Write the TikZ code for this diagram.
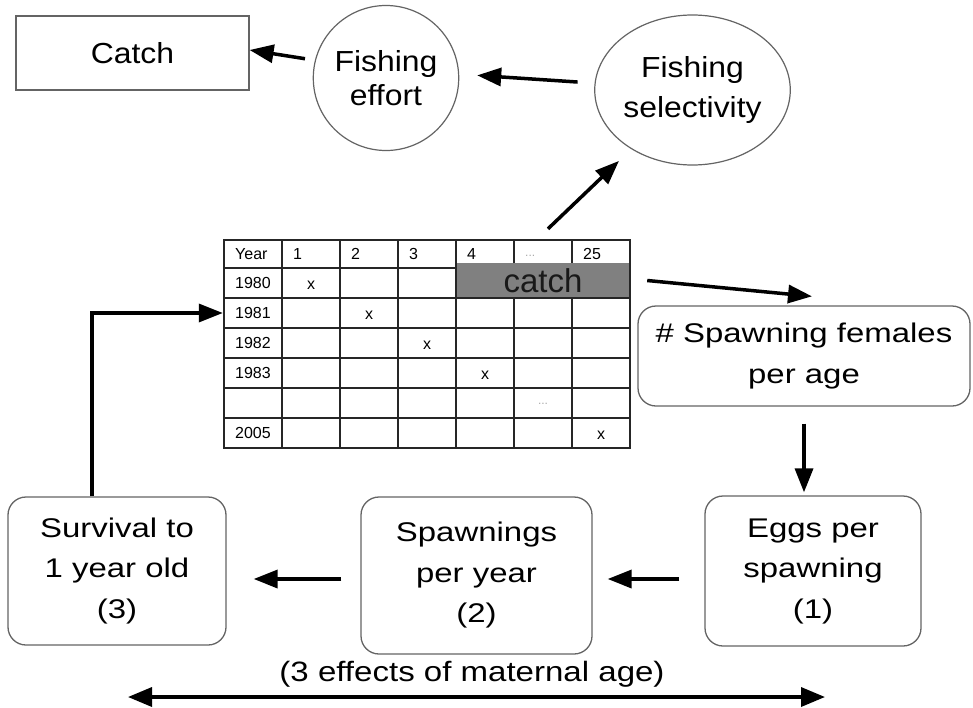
\documentclass[tikz,border=0pt]{standalone}
\usepackage{fontspec}
\setmainfont{Liberation Sans}
\usepackage{graphicx}
\usetikzlibrary{arrows.meta,shapes.geometric,calc}
\newcommand{\wx}[1]{\scalebox{1.22}[1]{#1}}
\newcommand{\wc}[1]{\scalebox{1.1}[1]{#1}}
\definecolor{edge}{RGB}{100,100,100}
\definecolor{cellgray}{RGB}{128,128,128}
\definecolor{dotgray}{RGB}{170,170,170}
\begin{document}
\begin{tikzpicture}[x=1pt,y=-1pt,
  boxstyle/.style={draw=edge, line width=1.3pt, rounded corners=18pt, align=center, inner sep=0pt, font=\fontsize{27}{40.5}\selectfont},
  circstyle/.style={ellipse, draw=edge, line width=1.2pt, align=center, inner sep=0pt},
  arr/.style={line width=3.5pt, -{Triangle[length=24pt,width=18pt]}},
  cell/.style={font=\fontsize{16}{16}\selectfont, inner sep=0pt},
  gridline/.style={line width=1.5pt, black!85},
]
\fill[white] (0,0) rectangle (973,707);
\useasboundingbox (0,0) rectangle (973,707);

% top row
\node[draw=edge, line width=1.2pt, minimum width=233pt, minimum height=74pt, inner sep=0pt,
      font=\fontsize{29}{34}\selectfont] (catch) at (132.5,53) {\wc{Catch}};
\node[circstyle, minimum width=142pt, minimum height=145pt, font=\fontsize{29}{34}\selectfont]
      (eff) at (386,78) {\wc{Fishing}\\\wc{effort}};
\node[circstyle, minimum width=175pt, minimum height=150pt, font=\fontsize{29}{40}\selectfont]
      (sel) at (692.5,90) {\wc{Fishing}\\\wc{selectivity}};

% table grid
\foreach \xx in {282,340,398,456,514,572} \draw[gridline] (\xx,240) -- (\xx,448);
\foreach \yy in {268,298,328,358,388,418} \draw[gridline] (224,\yy) -- (630,\yy);
\node[fill=cellgray, minimum width=174pt, minimum height=35pt, inner sep=0pt,
      font=\fontsize{33}{33}\selectfont, text=black!90] (catchcell) at (543,280.5) {catch};
\draw[gridline, line width=2pt] (456,263) -- (456,298) -- (630,298);
\node[draw=black!85, line width=2.4pt, minimum width=406pt, minimum height=208pt, inner sep=0pt] (tbl) at (427,344) {};

% header
\node[cell, anchor=west] (hY) at (235,254) {Year};
\node[cell, anchor=west] (h1) at (293,254) {1};
\node[cell, anchor=west] (h2) at (351,254) {2};
\node[cell, anchor=west] (h3) at (409,254) {3};
\node[cell, anchor=west] (h4) at (467,254) {4};
\node[cell, anchor=west, text=dotgray, font=\fontsize{12}{12}\selectfont] (h5) at (525,256) {...};
\node[cell, anchor=west] (h25) at (583,254) {25};
% years
\node[cell, anchor=west] (y80) at (235,283) {1980};
\node[cell, anchor=west] (y81) at (235,313) {1981};
\node[cell, anchor=west] (y82) at (235,343) {1982};
\node[cell, anchor=west] (y83) at (235,373) {1983};
\node[cell, anchor=west] (y05) at (235,433) {2005};
% marks
\node[cell] (m1) at (311,285) {x};
\node[cell] (m2) at (369,315) {x};
\node[cell] (m3) at (427,345) {x};
\node[cell] (m4) at (485,375) {x};
\node[cell, text=dotgray, font=\fontsize{12}{12}\selectfont] (m5) at (543,404) {...};
\node[cell] (m6) at (601,435) {x};

% right / bottom boxes
\node[boxstyle, minimum width=332pt, minimum height=100pt] (spf) at (804,356)
      {\wx{\# Spawning females}\\\wx{per age}};
\node[boxstyle, minimum width=216pt, minimum height=150pt] (eggs) at (813,571)
      {\wx{Eggs per}\\\wx{spawning}\\\wx{(1)}};
\node[boxstyle, minimum width=231pt, minimum height=157pt] (spw) at (476.5,575.5)
      {\wx{Spawnings}\\\wx{per year}\\\wx{(2)}};
\node[boxstyle, minimum width=218pt, minimum height=148pt] (surv) at (117,571)
      {\wx{Survival to}\\\wx{1 year old}\\\wx{(3)}};

\node[inner sep=0pt, font=\fontsize{28}{28}\selectfont] (lbl) at (472,674)
      {\scalebox{1.18}[1]{(3 effects of maternal age)}};

% connectors
\draw[arr, shorten <=10pt] (eff.166) -- ([yshift=3pt]catch.east);
\draw[arr, shorten <=17pt, shorten >=18pt] (sel.176) -- (eff.3);
\draw[arr, shorten >=17pt] ([xshift=121pt,yshift=10pt]tbl.north) -- (sel.224);
\draw[arr] ([xshift=17pt]catchcell.east) -- ([xshift=8pt,yshift=9pt]spf.north);
\draw[arr, shorten <=17pt, shorten >=3pt] (spf.south) -- (spf.south |- eggs.north);
\draw[arr, shorten <=25pt, shorten >=15pt] ([yshift=-8pt]eggs.west) -- ([yshift=-8pt]eggs.west -| spw.east);
\draw[arr, shorten <=19pt, shorten >=27pt] ([yshift=-8pt]surv.east -| spw.west) -- ([yshift=-8pt]surv.east);
\coordinate (r1981) at ([yshift=31pt]tbl.west);
\draw[arr] ([xshift=-25pt]surv.north) |- (r1981);
\coordinate (dl) at (128,697);
\coordinate (dr) at (825,697);
\draw[line width=3.5pt, {Triangle[length=24pt,width=19pt]}-{Triangle[length=24pt,width=19pt]}] (dl) -- (dr);
\end{tikzpicture}
\end{document}
